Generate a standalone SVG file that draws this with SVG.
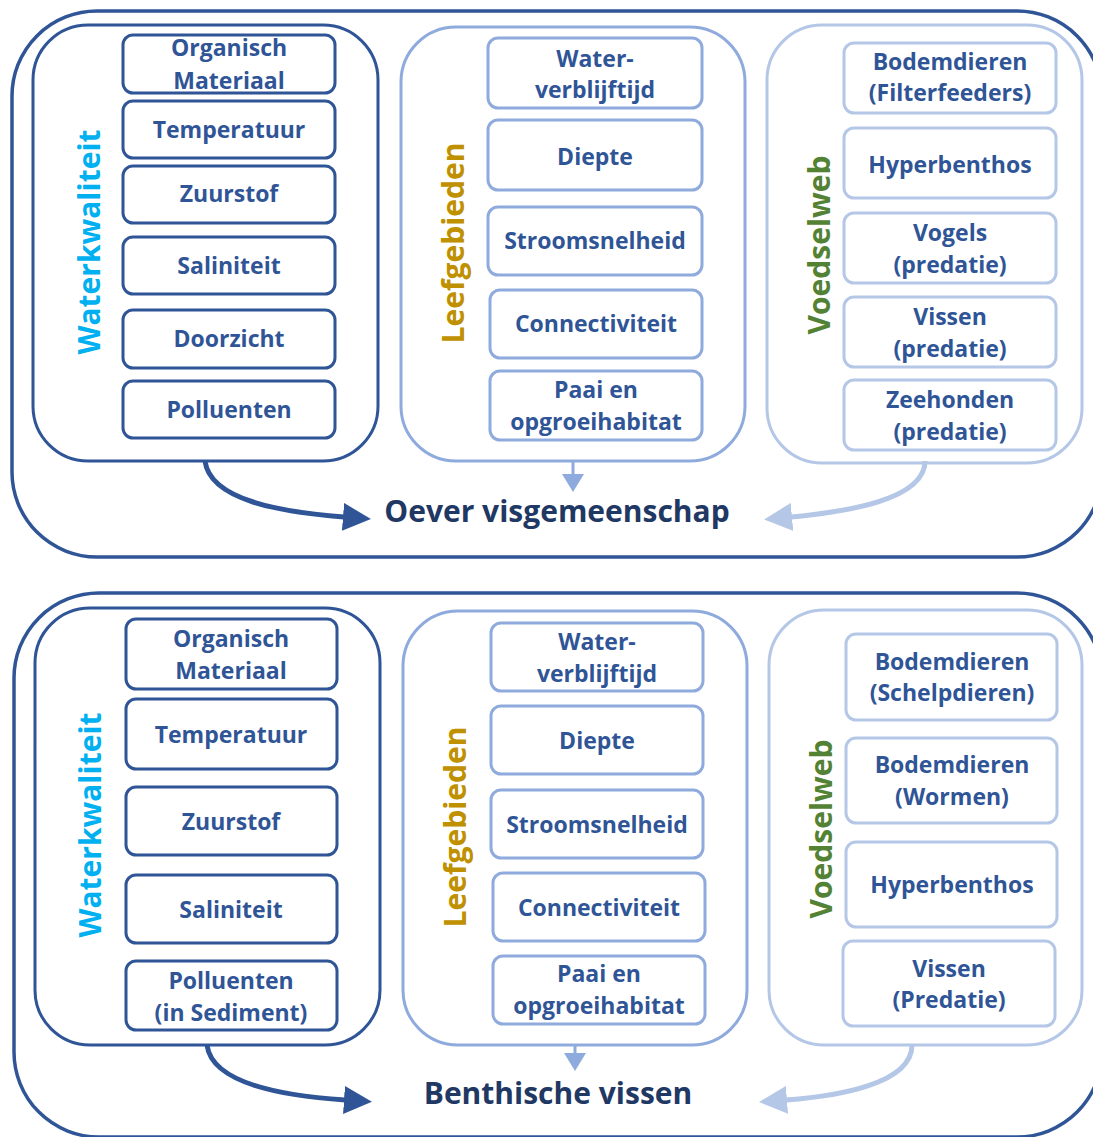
<svg xmlns="http://www.w3.org/2000/svg" width="1093" height="1137" viewBox="0 0 1093 1137">
  <defs>
    <style>
      .outer { fill: none; stroke: #2F5597; stroke-width: 3.5; }
      .grp-dark { fill: #FFFFFF; stroke: #2F5597; stroke-width: 3; }
      .grp-mid { fill: #FFFFFF; stroke: #8FAADC; stroke-width: 3; }
      .grp-light { fill: #FFFFFF; stroke: #B4C7E7; stroke-width: 3; }
      .box-dark { fill: #FFFFFF; stroke: #2F5597; stroke-width: 3; }
      .box-mid { fill: #FFFFFF; stroke: #8FAADC; stroke-width: 3; }
      .box-light { fill: #FFFFFF; stroke: #B4C7E7; stroke-width: 3; }
      text { font-family: "Open Sans", "Noto Sans", sans-serif; font-weight: 700; text-anchor: middle; }
      .item { font-size: 23px; fill: #2F5597; }
      .vlabel { font-size: 30px; }
      .water { fill: #00B0F0; }
      .leef { fill: #BF9000; }
      .voedsel { fill: #548235; }
      .title { font-size: 30px; fill: #1F3864; }
      .arr-dark { fill: none; stroke: #2F5597; stroke-width: 5; }
      .arr-mid { fill: none; stroke: #8FAADC; stroke-width: 3; }
      .arr-light { fill: none; stroke: #B4C7E7; stroke-width: 5; }
    </style>
    <marker id="head-dark" markerUnits="userSpaceOnUse" viewBox="0 0 28 28" markerWidth="28" markerHeight="28" refX="1" refY="14" orient="auto">
      <path d="M0,0 L28,14 L0,28 z" fill="#2F5597"/>
    </marker>
    <marker id="head-light" markerUnits="userSpaceOnUse" viewBox="0 0 28 28" markerWidth="28" markerHeight="28" refX="1" refY="14" orient="auto">
      <path d="M0,0 L28,14 L0,28 z" fill="#B4C7E7"/>
    </marker>
    <marker id="head-mid" markerUnits="userSpaceOnUse" viewBox="0 0 18 22" markerWidth="18" markerHeight="22" refX="1" refY="11" orient="auto">
      <path d="M0,0 L18,11 L0,22 z" fill="#8FAADC"/>
    </marker>
  </defs>

  <!-- ===== Upper panel: Oever visgemeenschap ===== -->
  <rect id="panel-oever" class="outer" x="12" y="11" width="1090" height="546" rx="85"/>

  <g id="oever-waterkwaliteit">
    <rect class="grp-dark" x="33" y="25" width="345" height="436" rx="55"/>
    <text class="vlabel water" transform="translate(100,242) rotate(-90)">Waterkwaliteit</text>
  </g>
  <g id="oever-organisch">
    <rect class="box-dark" x="123" y="35" width="212" height="58" rx="10"/>
    <text class="item" x="229" y="56">Organisch<tspan x="229" y="89">Materiaal</tspan></text>
  </g>
  <g id="oever-temperatuur">
    <rect class="box-dark" x="123" y="101" width="212" height="57" rx="10"/>
    <text class="item" x="229" y="138">Temperatuur</text>
  </g>
  <g id="oever-zuurstof">
    <rect class="box-dark" x="123" y="166" width="212" height="57" rx="10"/>
    <text class="item" x="229" y="202">Zuurstof</text>
  </g>
  <g id="oever-saliniteit">
    <rect class="box-dark" x="123" y="237" width="212" height="57" rx="10"/>
    <text class="item" x="229" y="274">Saliniteit</text>
  </g>
  <g id="oever-doorzicht">
    <rect class="box-dark" x="123" y="310" width="212" height="58" rx="10"/>
    <text class="item" x="229" y="347">Doorzicht</text>
  </g>
  <g id="oever-polluenten">
    <rect class="box-dark" x="123" y="381" width="212" height="57" rx="10"/>
    <text class="item" x="229" y="418">Polluenten</text>
  </g>

  <g id="oever-leefgebieden">
    <rect class="grp-mid" x="401" y="27" width="344" height="434" rx="55"/>
    <text class="vlabel leef" transform="translate(464,243) rotate(-90)">Leefgebieden</text>
  </g>
  <g id="oever-verblijftijd">
    <rect class="box-mid" x="488" y="38" width="214" height="70" rx="10"/>
    <text class="item" x="595" y="67">Water-<tspan x="595" y="98">verblijftijd</tspan></text>
  </g>
  <g id="oever-diepte">
    <rect class="box-mid" x="488" y="120" width="214" height="70" rx="10"/>
    <text class="item" x="595" y="165">Diepte</text>
  </g>
  <g id="oever-stroomsnelheid">
    <rect class="box-mid" x="488" y="207" width="214" height="68" rx="10"/>
    <text class="item" x="595" y="249">Stroomsnelheid</text>
  </g>
  <g id="oever-connectiviteit">
    <rect class="box-mid" x="490" y="290" width="212" height="68" rx="10"/>
    <text class="item" x="596" y="332">Connectiviteit</text>
  </g>
  <g id="oever-paai">
    <rect class="box-mid" x="490" y="371" width="212" height="69" rx="10"/>
    <text class="item" x="596" y="398">Paai en<tspan x="596" y="430">opgroeihabitat</tspan></text>
  </g>

  <g id="oever-voedselweb">
    <rect class="grp-light" x="767" y="25" width="315" height="438" rx="55"/>
    <text class="vlabel voedsel" transform="translate(830,245) rotate(-90)">Voedselweb</text>
  </g>
  <g id="oever-bodemdieren">
    <rect class="box-light" x="844" y="43" width="212" height="70" rx="10"/>
    <text class="item" x="950" y="70">Bodemdieren<tspan x="950" y="101">(Filterfeeders)</tspan></text>
  </g>
  <g id="oever-hyperbenthos">
    <rect class="box-light" x="844" y="128" width="212" height="70" rx="10"/>
    <text class="item" x="950" y="173">Hyperbenthos</text>
  </g>
  <g id="oever-vogels">
    <rect class="box-light" x="844" y="213" width="212" height="70" rx="10"/>
    <text class="item" x="950" y="241">Vogels<tspan x="950" y="273">(predatie)</tspan></text>
  </g>
  <g id="oever-vissen">
    <rect class="box-light" x="844" y="297" width="212" height="70" rx="10"/>
    <text class="item" x="950" y="325">Vissen<tspan x="950" y="357">(predatie)</tspan></text>
  </g>
  <g id="oever-zeehonden">
    <rect class="box-light" x="844" y="380" width="212" height="70" rx="10"/>
    <text class="item" x="950" y="408">Zeehonden<tspan x="950" y="440">(predatie)</tspan></text>
  </g>

  <g id="oever-target">
    <text class="title" x="557" y="522">Oever visgemeenschap</text>
  </g>

  <!-- ===== Lower panel: Benthische vissen ===== -->
  <rect id="panel-benthisch" class="outer" x="14" y="593" width="1088" height="544" rx="85"/>

  <g id="benth-waterkwaliteit">
    <rect class="grp-dark" x="35" y="608" width="345" height="437" rx="55"/>
    <text class="vlabel water" transform="translate(101,825) rotate(-90)">Waterkwaliteit</text>
  </g>
  <g id="benth-organisch">
    <rect class="box-dark" x="126" y="619" width="211" height="70" rx="10"/>
    <text class="item" x="231" y="647">Organisch<tspan x="231" y="679">Materiaal</tspan></text>
  </g>
  <g id="benth-temperatuur">
    <rect class="box-dark" x="126" y="699" width="211" height="70" rx="10"/>
    <text class="item" x="231" y="743">Temperatuur</text>
  </g>
  <g id="benth-zuurstof">
    <rect class="box-dark" x="126" y="787" width="211" height="68" rx="10"/>
    <text class="item" x="231" y="830">Zuurstof</text>
  </g>
  <g id="benth-saliniteit">
    <rect class="box-dark" x="126" y="875" width="211" height="68" rx="10"/>
    <text class="item" x="231" y="918">Saliniteit</text>
  </g>
  <g id="benth-polluenten">
    <rect class="box-dark" x="126" y="961" width="211" height="69" rx="10"/>
    <text class="item" x="231" y="989">Polluenten<tspan x="231" y="1021">(in Sediment)</tspan></text>
  </g>

  <g id="benth-leefgebieden">
    <rect class="grp-mid" x="403" y="611" width="344" height="434" rx="55"/>
    <text class="vlabel leef" transform="translate(466,827) rotate(-90)">Leefgebieden</text>
  </g>
  <g id="benth-verblijftijd">
    <rect class="box-mid" x="491" y="623" width="212" height="68" rx="10"/>
    <text class="item" x="597" y="650">Water-<tspan x="597" y="682">verblijftijd</tspan></text>
  </g>
  <g id="benth-diepte">
    <rect class="box-mid" x="491" y="706" width="212" height="68" rx="10"/>
    <text class="item" x="597" y="749">Diepte</text>
  </g>
  <g id="benth-stroomsnelheid">
    <rect class="box-mid" x="491" y="790" width="212" height="68" rx="10"/>
    <text class="item" x="597" y="833">Stroomsnelheid</text>
  </g>
  <g id="benth-connectiviteit">
    <rect class="box-mid" x="493" y="873" width="212" height="68" rx="10"/>
    <text class="item" x="599" y="916">Connectiviteit</text>
  </g>
  <g id="benth-paai">
    <rect class="box-mid" x="493" y="956" width="212" height="68" rx="10"/>
    <text class="item" x="599" y="982">Paai en<tspan x="599" y="1014">opgroeihabitat</tspan></text>
  </g>

  <g id="benth-voedselweb">
    <rect class="grp-light" x="769" y="610" width="313" height="435" rx="55"/>
    <text class="vlabel voedsel" transform="translate(832,829) rotate(-90)">Voedselweb</text>
  </g>
  <g id="benth-schelpdieren">
    <rect class="box-light" x="846" y="634" width="211" height="86" rx="10"/>
    <text class="item" x="952" y="670">Bodemdieren<tspan x="952" y="701">(Schelpdieren)</tspan></text>
  </g>
  <g id="benth-wormen">
    <rect class="box-light" x="846" y="738" width="211" height="85" rx="10"/>
    <text class="item" x="952" y="773">Bodemdieren<tspan x="952" y="805">(Wormen)</tspan></text>
  </g>
  <g id="benth-hyperbenthos">
    <rect class="box-light" x="846" y="842" width="211" height="85" rx="10"/>
    <text class="item" x="952" y="893">Hyperbenthos</text>
  </g>
  <g id="benth-vissen">
    <rect class="box-light" x="843" y="941" width="212" height="85" rx="10"/>
    <text class="item" x="949" y="977">Vissen<tspan x="949" y="1008">(Predatie)</tspan></text>
  </g>

  <g id="benth-target">
    <text class="title" x="558" y="1104">Benthische vissen</text>
  </g>

  <!-- ===== Connectors ===== -->
  <g id="connectors">
    <path class="arr-dark" d="M205,461 C210,500 280,512 344,517" marker-end="url(#head-dark)"/>
    <path class="arr-mid" d="M573,462 L573,475" marker-end="url(#head-mid)"/>
    <path class="arr-light" d="M925,461 C925,500 845,512 791,517" marker-end="url(#head-light)"/>

    <path class="arr-dark" d="M207,1045 C212,1084 285,1096 345,1100" marker-end="url(#head-dark)"/>
    <path class="arr-mid" d="M575,1045 L575,1054" marker-end="url(#head-mid)"/>
    <path class="arr-light" d="M912,1045 C912,1084 838,1096 786,1100" marker-end="url(#head-light)"/>
  </g>
</svg>
